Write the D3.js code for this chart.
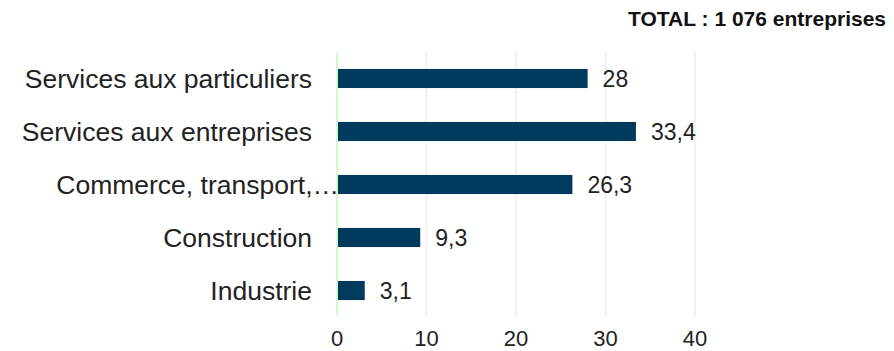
<!DOCTYPE html>
<html>
<head>
<meta charset="utf-8">
<script src="https://cdn.jsdelivr.net/npm/d3@7"></script>
<style>
  body { margin: 0; background: #fff; }
  text { font-family: "Liberation Sans", Arial, sans-serif; }
</style>
</head>
<body>
<div class="myViz"></div>
<script>
// data
var categories = ["Services aux particuliers", "Services aux entreprises", "Commerce, transport,\u2026", "Construction", "Industrie"];
var values = [28, 33.4, 26.3, 9.3, 3.1];
var xTicks = [0, 10, 20, 30, 40];
var totalLabel = "TOTAL : 1 076 entreprises";

var W = 894, H = 351;
var margin = {top: 52, left: 337, bottom: 35};

var svg = d3.select(".myViz").append("svg")
  .attr("width", W)
  .attr("height", H);

var x = d3.scaleLinear().domain([0, 40]).range([margin.left, margin.left + 358]);
var y = d3.scaleBand().domain(categories).range([margin.top, 317]).paddingInner(0.64).paddingOuter(0.32);

// gridlines
svg.append("g").selectAll("line")
  .data(xTicks)
  .enter().append("line")
  .attr("x1", d => x(d)).attr("x2", d => x(d))
  .attr("y1", margin.top).attr("y2", 316)
  .attr("stroke", d => d == 0 ? "#c8f5c0" : "#ececec")
  .attr("stroke-width", 1.5);

// bars
svg.append("g").selectAll("rect")
  .data(values)
  .enter().append("rect")
  .attr("x", x(0) + 1)
  .attr("y", (d, i) => y(categories[i]))
  .attr("width", d => x(d) - x(0) - 1)
  .attr("height", y.bandwidth())
  .attr("fill", "#003a5d");

// value labels
svg.append("g").selectAll("text")
  .data(values)
  .enter().append("text")
  .attr("x", d => x(d) + 15)
  .attr("y", (d, i) => y(categories[i]) + y.bandwidth() / 2)
  .attr("dy", "0.36em")
  .attr("font-size", 23)
  .attr("fill", "#222")
  .text(d => String(d).replace(".", ","));

// category labels
svg.append("g").selectAll("text")
  .data(categories)
  .enter().append("text")
  .attr("x", (d, i) => i == 2 ? 339 : 312)
  .attr("y", d => y(d) + y.bandwidth() / 2)
  .attr("dy", "0.36em")
  .attr("text-anchor", "end")
  .attr("font-size", 26.5)
  .attr("fill", "#222")
  .text(d => d);

// x axis tick labels
svg.append("g").selectAll("text")
  .data(xTicks)
  .enter().append("text")
  .attr("x", d => x(d))
  .attr("y", 346)
  .attr("text-anchor", "middle")
  .attr("font-size", 22)
  .attr("fill", "#222")
  .text(d => d);

// total
svg.append("text")
  .attr("x", 886)
  .attr("y", 26)
  .attr("text-anchor", "end")
  .attr("font-size", 21)
  .attr("font-weight", "bold")
  .attr("fill", "#111")
  .text(totalLabel);
</script>
</body>
</html>
